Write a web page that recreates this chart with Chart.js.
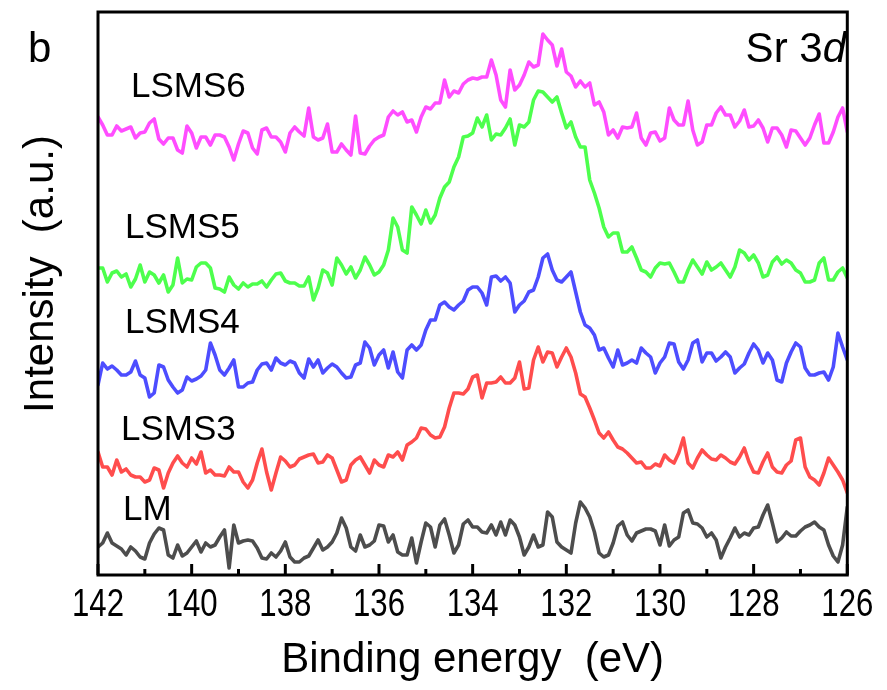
<!DOCTYPE html>
<html><head><meta charset="utf-8">
<script src="https://cdn.jsdelivr.net/npm/chart.js@4.4.0/dist/chart.umd.min.js"></script>
<style>html,body{margin:0;padding:0;background:#fff;}#wrap{width:887px;height:690px;}</style>
</head><body><div id="wrap"><canvas id="c" width="887" height="690"></canvas></div>
<script>
// Binding energy grid (eV)
const energies = [
142,141.9,141.8,141.7,141.6,141.5,141.4,141.3,141.2,141.1,
141,140.9,140.8,140.7,140.6,140.5,140.4,140.3,140.2,140.1,
140,139.9,139.8,139.7,139.6,139.5,139.4,139.3,139.2,139.1,
139,138.9,138.8,138.7,138.6,138.5,138.4,138.3,138.2,138.1,
138,137.9,137.8,137.7,137.6,137.5,137.4,137.3,137.2,137.1,
137,136.9,136.8,136.7,136.6,136.5,136.4,136.3,136.2,136.1,
136,135.9,135.8,135.7,135.6,135.5,135.4,135.3,135.2,135.1,
135,134.9,134.8,134.7,134.6,134.5,134.4,134.3,134.2,134.1,
134,133.9,133.8,133.7,133.6,133.5,133.4,133.3,133.2,133.1,
133,132.9,132.8,132.7,132.6,132.5,132.4,132.3,132.2,132.1,
132,131.9,131.8,131.7,131.6,131.5,131.4,131.3,131.2,131.1,
131,130.9,130.8,130.7,130.6,130.5,130.4,130.3,130.2,130.1,
130,129.9,129.8,129.7,129.6,129.5,129.4,129.3,129.2,129.1,
129,128.9,128.8,128.7,128.6,128.5,128.4,128.3,128.2,128.1,
128,127.9,127.8,127.7,127.6,127.5,127.4,127.3,127.2,127.1,
127,126.9,126.8,126.7,126.6,126.5,126.4,126.3,126.2,126.1,
126];

// Intensities (a.u., curves offset vertically as in the figure)
const lsms6 = [
458,450,440,440,449,444,446,448,437,442, 443,452,456,436,431,437,437,425,422,449,
442,427,438,438,430,440,440,438,428,415, 431,444,442,427,421,445,447,438,438,433,
423,442,448,443,439,467,438,435,437,451, 423,423,431,425,420,459,422,421,429,435,
438,440,458,464,460,463,453,455,443,458, 468,466,472,472,495,478,484,482,491,495,
497,496,498,498,515,500,475,468,505,485, 490,500,513,508,510,541,535,530,509,526,
503,499,488,494,488,492,470,473,463,440, 445,437,448,447,448,462,437,430,442,443,
434,437,467,455,450,450,474,445,430,433, 450,450,462,468,460,460,448,454,465,448,
449,455,447,433,447,447,440,428,445,444, 437,430,437,450,461,432,432,443,458,467,
443];
const lsms5 = [
307,307,293,302,304,298,301,288,296,310, 293,303,300,292,300,283,290,317,292,296,
295,308,312,312,307,287,286,283,298,290, 286,292,288,291,291,294,288,295,301,302,
294,292,292,289,289,298,275,287,305,302, 290,317,310,301,308,297,305,318,310,300,
303,310,325,357,348,325,322,368,360,351, 365,352,360,377,388,393,408,418,438,439,
442,457,448,460,435,441,440,447,456,430, 450,448,453,475,484,483,478,473,478,462,
447,453,438,428,428,395,382,367,348,338, 342,342,323,323,328,317,305,303,298,307,
312,311,312,303,293,293,305,315,308,301, 313,305,308,312,305,298,308,325,322,315,
320,312,298,300,313,318,311,315,312,305, 302,293,293,295,312,317,295,295,303,307,
297];
const lsms4 = [
190,212,206,209,205,200,200,203,214,200, 197,178,182,210,208,195,188,182,185,198,
194,196,199,205,232,220,205,200,207,215, 188,188,192,193,205,211,212,205,217,212,
210,214,212,202,197,216,208,215,202,207, 211,208,202,197,198,210,212,233,227,210,
220,225,207,223,203,197,225,230,225,230, 245,255,255,270,273,268,265,270,274,285,
288,288,282,270,298,299,294,298,292,263, 270,274,283,285,298,317,321,305,295,293,
298,303,283,263,250,247,240,225,227,217, 208,225,210,212,215,212,227,222,218,202,
212,218,232,231,213,206,215,232,235,213, 222,222,214,218,223,218,202,207,211,222,
231,225,212,222,215,195,193,212,223,232, 228,207,200,200,202,203,195,208,242,228,
215];
const lsms3 = [
123,108,108,100,115,103,106,100,98,98, 93,95,107,105,87,102,112,119,112,108,
117,111,123,102,105,100,100,99,108,103, 103,93,87,95,112,126,103,85,102,118,
114,108,110,116,118,120,121,112,113,120, 117,105,93,95,110,115,118,110,102,115,
110,108,120,118,123,115,130,133,137,147, 146,140,137,138,148,167,182,182,181,186,
198,200,177,192,192,193,198,192,192,197, 213,186,187,215,228,213,223,222,208,218,
227,218,202,181,178,167,155,142,137,143, 135,128,126,122,117,112,113,107,107,111,
109,120,115,112,122,137,112,107,117,125, 120,116,115,120,117,113,111,118,127,113,
103,102,113,122,108,103,102,110,114,135, 137,108,98,95,90,102,117,110,103,95,
82];
const lm = [
28,32,42,32,29,26,20,28,24,18, 16,32,41,47,45,20,17,30,19,22,
28,34,23,32,28,30,38,45,7,50, 32,34,35,34,27,17,16,22,18,24,
33,18,13,13,17,19,27,35,25,28, 33,42,57,47,28,24,40,28,30,34,
50,49,33,40,23,20,20,37,12,33, 52,48,28,50,56,40,22,30,51,55,
48,48,43,42,50,40,53,40,55,50, 38,20,28,40,28,30,63,58,33,28,
25,22,52,73,67,58,43,22,18,20, 32,49,53,40,34,42,44,46,46,44,
30,50,29,35,38,62,65,52,51,47, 38,42,35,17,28,37,47,38,42,40,
47,48,60,70,52,33,37,43,39,39, 44,48,50,53,48,45,30,19,13,30,
68];

const seriesNames = ['LSMS6','LSMS5','LSMS4','LSMS3','LM'];
const seriesColors = ['#ff4dff','#4dff4d','#4d4dff','#ff4d4d','#4d4d4d'];
const seriesValues = [lsms6, lsms5, lsms4, lsms3, lm];
const tickLabels = [142,140,138,136,134,132,130,128,126];

const FONT = "'Liberation Sans', Arial, Helvetica, sans-serif";
const SQ = 0.82; // horizontal squeeze of tick labels (narrow face)

const datasets = seriesNames.map((n, k) => ({
  label: n,
  data: energies.map((e, i) => ({x: e, y: seriesValues[k][i]})),
  borderColor: seriesColors[k],
  borderWidth: 3.6,
  borderJoinStyle: 'round',
  borderCapStyle: 'round',
  pointRadius: 0,
  tension: 0,
  fill: false
}));

// label positions (left x, baseline y) of curve names
const labelPos = {LSMS6:[131,97], LSMS5:[125,238], LSMS4:[125,333], LSMS3:[121,440], LM:[123,520]};

const decor = {
  id: 'decor',
  beforeDraw(chart) {
    const xs = chart.scales.x;
    if (!xs._squeezed) {
      const orig = xs.drawLabels;
      const pf = CanvasRenderingContext2D.prototype.fillText;
      xs.drawLabels = function(area) {
        const ctx = this.ctx;
        ctx.fillText = function(t, x, y, mw) {
          this.save(); this.scale(SQ, 1);
          if (mw === undefined) pf.call(this, t, x / SQ, y); else pf.call(this, t, x / SQ, y, mw / SQ);
          this.restore();
        };
        orig.call(this, area);
        delete ctx.fillText;
      };
      xs._squeezed = true;
    }
  },
  afterDraw(chart) {
    const ctx = chart.ctx, a = chart.chartArea, xs = chart.scales.x;
    ctx.save();
    // frame
    ctx.strokeStyle = '#000'; ctx.lineWidth = 3;
    ctx.strokeRect(a.left, a.top, a.right - a.left, a.bottom - a.top);
    // inward ticks
    ctx.lineWidth = 3;
    xs.ticks.forEach(t => {
      const px = xs.getPixelForValue(t.value);
      const len = (Math.round(t.value) % 2 === 0) ? 11 : 6;
      ctx.beginPath(); ctx.moveTo(px, a.bottom); ctx.lineTo(px, a.bottom - len); ctx.stroke();
    });
    // texts
    ctx.fillStyle = '#000';
    ctx.textBaseline = 'alphabetic';
    ctx.textAlign = 'left';
    ctx.font = '35px ' + FONT;
    seriesNames.forEach(n => { const p = labelPos[n]; ctx.fillText(n, p[0], p[1]); });
    ctx.font = '42px ' + FONT;
    ctx.fillText('b', 28, 62);
    // Sr 3d
    const w1 = ctx.measureText('Sr 3').width;
    ctx.font = 'italic 42px ' + FONT;
    const w2 = ctx.measureText('d').width;
    const x0 = 846 - w1 - w2;
    ctx.font = '42px ' + FONT;
    ctx.fillText('Sr 3', x0, 62);
    ctx.font = 'italic 42px ' + FONT;
    ctx.fillText('d', x0 + w1, 62);
    // y title
    ctx.font = '42px ' + FONT;
    ctx.translate(53, 274); ctx.rotate(-Math.PI / 2);
    ctx.textAlign = 'center';
    ctx.fillText('Intensity  (a.u.)', 0, 0);
    ctx.restore();
  }
};

new Chart(document.getElementById('c'), {
  type: 'line',
  data: { datasets },
  options: {
    responsive: false,
    animation: false,
    devicePixelRatio: 1,
    layout: { padding: { left: 98, right: 36, top: 12, bottom: 0 } },
    plugins: { legend: { display: false }, tooltip: { enabled: false } },
    scales: {
      x: {
        type: 'linear', reverse: true, min: 126, max: 142,
        grid: { display: false, drawTicks: false },
        border: { display: false },
        afterFit(scale) { scale.height = 115; },
        ticks: {
          stepSize: 1, autoSkip: false, maxRotation: 0, padding: 8,
          color: '#000', font: { family: FONT, size: 38 },
          callback: v => tickLabels.includes(v) ? String(v) : ''
        },
        title: { display: true, text: 'Binding energy  (eV)', color: '#000',
          font: { family: FONT, size: 42 }, padding: { top: 0, bottom: 4 } }
      },
      y: { display: false, min: 0, max: 563 }
    }
  },
  plugins: [decor]
});
</script></body></html>
